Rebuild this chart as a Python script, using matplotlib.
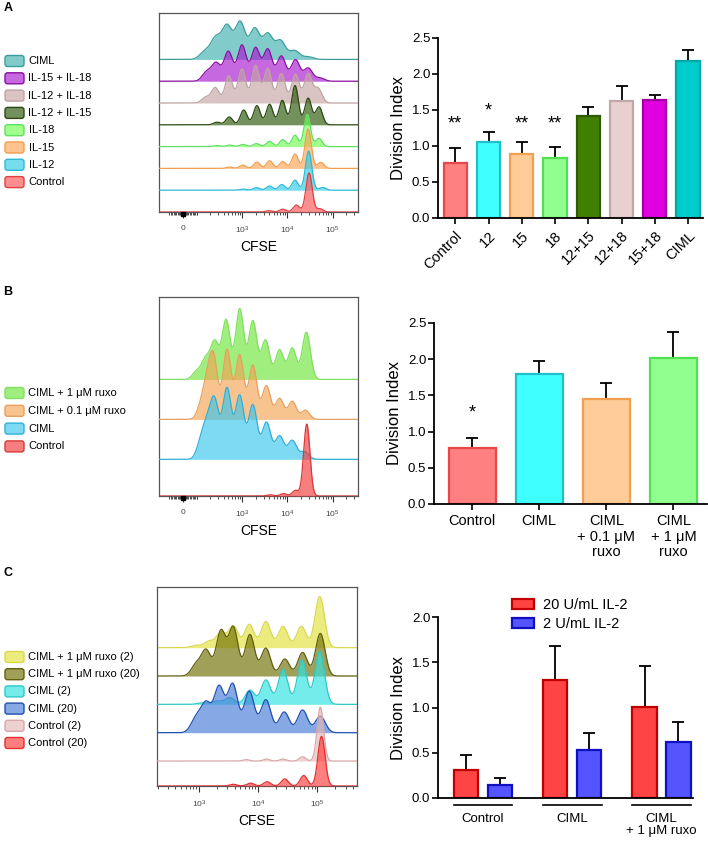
"""
Division index figure: CFSE dilution histograms (A-C) and division-index bars.
"""

import numpy as np
import matplotlib
matplotlib.use("Agg")
import matplotlib.pyplot as plt
from matplotlib.patches import FancyBboxPatch, Patch
from matplotlib.transforms import blended_transform_factory

plt.rcParams["font.family"] = ["Liberation Sans", "DejaVu Sans"]
plt.rcParams["mathtext.fontset"] = "custom"
plt.rcParams["mathtext.rm"] = "Liberation Sans"
plt.rcParams["mathtext.it"] = "Liberation Sans:italic"

# ---------------- Panel A histogram (log10 CFSE, top track first) ----------------
A_NAMES = ["CIML", "IL-15 + IL-18", "IL-12 + IL-18", "IL-12 + IL-15",
           "IL-18", "IL-15", "IL-12", "Control"]
A_BASE = [7, 6, 5, 4, 3, 2, 1, 0]
A_CENTERS = [
    [2.18, 2.42, 2.67, 2.96, 3.28, 3.57, 3.85, 4.16, 4.46],
    [2.22, 2.43, 2.70, 3.00, 3.30, 3.57, 3.87, 4.18, 4.46, 4.72],
    [2.20, 2.41, 2.71, 3.00, 3.30, 3.57, 3.87, 4.18, 4.46, 4.68],
    [2.45, 2.72, 3.04, 3.33, 3.61, 3.89, 4.17, 4.46, 4.70],
    [2.45, 2.73, 3.02, 3.32, 3.61, 3.90, 4.17, 4.44, 4.70],
    [2.73, 3.02, 3.33, 3.61, 3.90, 4.17, 4.46, 4.74],
    [3.02, 3.32, 3.61, 3.88, 4.17, 4.47, 4.78],
    [3.60, 3.90, 4.20, 4.48, 4.72],
]
A_HEIGHTS = [
    [0.35, 0.95, 1.50, 1.70, 1.40, 1.15, 0.85, 0.40, 0.12],
    [0.42, 0.82, 1.36, 1.65, 1.52, 1.46, 1.15, 0.98, 0.60, 0.15],
    [0.26, 0.70, 1.24, 1.56, 1.72, 1.58, 1.35, 1.32, 1.34, 0.66],
    [0.12, 0.36, 0.68, 0.88, 0.94, 1.12, 1.80, 1.22, 0.82],
    [0.05, 0.07, 0.10, 0.14, 0.24, 0.32, 0.52, 1.48, 0.38],
    [0.06, 0.15, 0.29, 0.35, 0.32, 0.66, 1.80, 0.28],
    [0.05, 0.12, 0.19, 0.26, 0.46, 1.79, 0.13],
    [0.06, 0.13, 0.32, 1.79, 0.15],
]
A_WIDTHS = [0.11, 0.095, 0.085, 0.075, 0.07, 0.07, 0.07, 0.07]
A_FILL = ["#3FAFAF", "#A818D0", "#C5A3A3", "#285707",
          "#6EFF50", "#FFA353", "#2BCBE6", "#FF5454"]
A_EDGE = ["#3A9E9E", "#8A10A0", "#C0A4A4", "#2E4A12",
          "#60E060", "#F0A050", "#30B8D8", "#E04040"]

# ---------------- Panel B histogram ----------------
B_NAMES = ["CIML + 1 μM ruxo", "CIML + 0.1 μM ruxo", "CIML", "Control"]
B_BASE = [2.917, 1.917, 0.917, 0.0]
B_CENTERS = [
    [2.00, 2.20, 2.40, 2.65, 2.95, 3.24, 3.52, 3.83, 4.11, 4.42],
    [2.10, 2.24, 2.38, 2.67, 2.95, 3.24, 3.54, 3.83, 4.11, 4.40],
    [2.10, 2.24, 2.40, 2.67, 2.95, 3.24, 3.54, 3.83, 4.11, 4.38],
    [3.62, 3.92, 4.18, 4.43],
]
B_HEIGHTS = [
    [0.20, 0.50, 0.92, 1.48, 1.76, 1.46, 0.98, 0.74, 0.78, 1.18],
    [0.32, 0.82, 1.40, 1.74, 1.60, 1.35, 0.84, 0.52, 0.45, 0.23],
    [0.42, 0.70, 1.36, 1.76, 1.58, 1.35, 0.92, 0.58, 0.47, 0.19],
    [0.03, 0.06, 0.14, 1.80],
]
B_WIDTHS = [0.09, 0.09, 0.095, 0.07]
B_FILL = ["#6EE639", "#F3A353", "#39C6EE", "#F33939"]
B_EDGE = ["#80E060", "#E8A060", "#30B0D8", "#D83838"]

# ---------------- Panel C histogram ----------------
C_NAMES = ["CIML + 1 μM ruxo (2)", "CIML + 1 μM ruxo (20)", "CIML (2)",
           "CIML (20)", "Control (2)", "Control (20)"]
C_BASE = [4.88, 3.88, 2.88, 1.88, 0.88, 0.0]
C_CENTERS = [
    [2.95, 3.17, 3.37, 3.58, 3.85, 4.13, 4.42, 4.73, 5.04],
    [2.95, 3.12, 3.37, 3.58, 3.86, 4.13, 4.45, 4.75, 5.05],
    [3.05, 3.30, 3.52, 3.86, 4.13, 4.42, 4.74, 5.04],
    [2.95, 3.12, 3.34, 3.57, 3.85, 4.13, 4.44, 4.75, 5.05],
    [3.80, 4.14, 4.42, 4.75, 5.05],
    [3.58, 3.87, 4.15, 4.45, 4.77, 5.07],
]
C_HEIGHTS = [
    [0.08, 0.22, 0.52, 0.76, 0.82, 0.92, 0.75, 0.75, 1.80],
    [0.40, 0.90, 1.58, 1.70, 1.46, 0.98, 0.60, 0.83, 1.50],
    [0.05, 0.12, 0.24, 0.50, 0.86, 1.24, 1.56, 1.86],
    [0.50, 1.00, 1.60, 1.70, 1.45, 1.16, 0.73, 0.80, 0.58],
    [0.05, 0.07, 0.07, 0.15, 1.90],
    [0.06, 0.10, 0.15, 0.25, 0.37, 1.75],
]
C_WIDTHS = [0.08, 0.08, 0.08, 0.085, 0.055, 0.06]
C_FILL = ["#E3E339", "#6E6E00", "#2BE3E3", "#467BD9", "#E6B7B7", "#FF3939"]
C_EDGE = ["#D8D850", "#606010", "#30C8C8", "#2050B0", "#D8A8A8", "#E03030"]

# ---------------- Bar charts ----------------
A_BAR_LABELS = ["Control", "12", "15", "18", "12+15", "12+18", "15+18", "CIML"]
A_BAR_VALS = [0.76, 1.05, 0.89, 0.83, 1.41, 1.62, 1.64, 2.18]
A_BAR_ERR = [0.97, 1.19, 1.06, 0.98, 1.54, 1.83, 1.71, 2.34]
A_BAR_STARS = ["**", "*", "**", "**", "", "", "", ""]
A_STAR_Y = [1.25, 1.42, 1.25, 1.25, 0, 0, 0, 0]
A_BAR_FILL = ["#FF8080", "#40FFFF", "#FFCC99", "#90FF90",
              "#408000", "#E8D0D0", "#E000E0", "#00CCCC"]
A_BAR_EDGE = ["#E84848", "#20C0C8", "#F0A050", "#50E050",
              "#2F5A00", "#C0A8A8", "#A000A0", "#00A8A8"]

B_BAR_LABELS = ["Control", "CIML", "CIML\n+ 0.1 μM\nruxo", "CIML\n+ 1 μM\nruxo"]
B_BAR_VALS = [0.78, 1.79, 1.45, 2.01]
B_BAR_ERR = [0.91, 1.98, 1.67, 2.38]
B_BAR_STARS = ["*", "", "", ""]
B_STAR_Y = [1.19, 0, 0, 0]
B_BAR_FILL = ["#FF8080", "#40FFFF", "#FFCC99", "#90FF90"]
B_BAR_EDGE = ["#E84848", "#20C0C8", "#F0A050", "#50E050"]

C_GROUPS = ["Control", "CIML", "CIML\n+ 1 μM ruxo"]
C_SERIES = ["20 U/mL IL-2", "2 U/mL IL-2"]
C_VALS_20 = [0.31, 1.30, 1.01]
C_ERR_20 = [0.47, 1.68, 1.46]
C_VALS_2 = [0.14, 0.53, 0.62]
C_ERR_2 = [0.22, 0.72, 0.84]
C_SER_FILL = ["#FF4444", "#5555FF"]
C_SER_EDGE = ["#C00000", "#1010C0"]

W, H = 708, 841
fig = plt.figure(figsize=(W / 100, H / 100), dpi=100)


def px_axes(x0, y0, x1, y1, **kw):
    return fig.add_axes([x0 / W, 1 - y1 / H, (x1 - x0) / W, (y1 - y0) / H], **kw)


def draw_hist(ax, centers, heights, widths, base, fills, edges, xlim, ylim):
    x = np.linspace(xlim[0], xlim[1], 1200)
    for i in range(len(centers)):
        y = np.zeros_like(x)
        for c, h in zip(centers[i], heights[i]):
            y += h * np.exp(-0.5 * ((x - c) / widths[i]) ** 2)
        b = base[i]
        ax.fill_between(x, b, b + y, color=fills[i], alpha=0.65, lw=0, zorder=2 + i)
        ax.plot(x, b + y, color=edges[i], lw=0.9, zorder=2 + i)
    ax.set_xlim(*xlim)
    ax.set_ylim(*ylim)
    ax.set_yticks([])
    for s in ax.spines.values():
        s.set_color("#555555")
        s.set_linewidth(0.9)
    ax.tick_params(axis="x", which="major", direction="out", length=4, width=0.8,
                   color="#333333", labelsize=6, labelcolor="#444444", pad=5)
    ax.tick_params(axis="x", which="minor", direction="out", length=2.5, width=0.6,
                   color="#333333")
    ax.set_xlabel("CFSE", fontsize=10, labelpad=3)


def logicle_ticks(ax, xlim):
    zero, lin = 1.70, 0.30
    ax.set_xticks([zero, 3, 4, 5], ["0", "$10^3$", "$10^4$", "$10^5$"])
    minor = [zero + v / 100 * lin for v in range(-100, 101, 10)]
    minor += [k + np.log10(m) for k in (2, 3, 4, 5) for m in range(1, 10)]
    minor = [m for m in minor if xlim[0] < m < xlim[1] and m not in (3, 4, 5)]
    ax.set_xticks(minor, minor=True)
    tr = blended_transform_factory(ax.transData, ax.transAxes)
    ax.plot([zero], [-0.012], marker="s", ms=3, color="k", transform=tr,
            clip_on=False, zorder=10)


def log_ticks(ax, xlim):
    ax.set_xticks([3, 4, 5], ["$10^3$", "$10^4$", "$10^5$"])
    minor = [k + np.log10(m) for k in (2, 3, 4, 5) for m in range(2, 10)]
    ax.set_xticks([m for m in minor if xlim[0] < m < xlim[1]], minor=True)


# histograms
xa = (1.17, 5.56)
axA = px_axes(159, 13, 358, 212)
draw_hist(axA, A_CENTERS, A_HEIGHTS, A_WIDTHS, A_BASE, A_FILL, A_EDGE, xa, (0, 9.13))
logicle_ticks(axA, xa)

axB = px_axes(159, 297, 358, 496)
draw_hist(axB, B_CENTERS, B_HEIGHTS, B_WIDTHS, B_BASE, B_FILL, B_EDGE, xa, (0, 4.98))
logicle_ticks(axB, xa)

xc = (2.29, 5.67)
axC = px_axes(157, 587, 357, 786)
draw_hist(axC, C_CENTERS, C_HEIGHTS, C_WIDTHS, C_BASE, C_FILL, C_EDGE, xc, (0, 7.02))
log_ticks(axC, xc)


def style_bar_axes(ax, ymax):
    for s in ("top", "right"):
        ax.spines[s].set_visible(False)
    for s in ("left", "bottom"):
        ax.spines[s].set_linewidth(1.3)
    ax.set_ylim(0, ymax)
    ax.set_yticks(np.arange(0, ymax + 0.01, 0.5))
    ax.set_yticklabels([f"{v:.1f}" for v in np.arange(0, ymax + 0.01, 0.5)])
    ax.tick_params(axis="y", direction="out", length=4, width=1.2, labelsize=9.5, pad=1.5)
    ax.tick_params(axis="x", direction="out", length=4, width=1.2)
    ax.set_ylabel("Division Index", fontsize=12, labelpad=4)


def draw_bars(ax, vals, errs, fills, edges, width, x=None):
    if x is None:
        x = np.arange(len(vals))
    vals = np.asarray(vals)
    up = np.asarray(errs) - vals
    ax.errorbar(x, vals, yerr=[np.zeros_like(vals), up], fmt="none", ecolor="k",
                elinewidth=1.3, capsize=4.5, capthick=1.3, zorder=1)
    ax.bar(x, vals, width=width, color=fills, edgecolor=edges, linewidth=1.6, zorder=2)
    return x


# A bars
axAb = px_axes(438, 38, 703, 218)
xb = draw_bars(axAb, A_BAR_VALS, A_BAR_ERR, A_BAR_FILL, A_BAR_EDGE, 0.7)
for xi, st, sy in zip(xb, A_BAR_STARS, A_STAR_Y):
    if st:
        axAb.text(xi, sy, st, ha="center", va="baseline", fontsize=13)
axAb.set_xlim(-0.52, 7.45)
style_bar_axes(axAb, 2.5)
axAb.set_xticks(xb)
axAb.set_xticklabels(A_BAR_LABELS, rotation=45, ha="right", rotation_mode="anchor",
                     fontsize=10.5)

# B bars
axBb = px_axes(434, 323, 707, 504)
xb = draw_bars(axBb, B_BAR_VALS, B_BAR_ERR, B_BAR_FILL, B_BAR_EDGE, 0.7)
for xi, st, sy in zip(xb, B_BAR_STARS, B_STAR_Y):
    if st:
        axBb.text(xi, sy, st, ha="center", va="baseline", fontsize=13)
axBb.set_xlim(-0.567, 3.5)
style_bar_axes(axBb, 2.5)
axBb.set_xticks(xb)
axBb.set_xticklabels(B_BAR_LABELS, fontsize=10.5, linespacing=1.1)

# C grouped bars
axCb = px_axes(438, 617, 693, 798)
g = np.arange(len(C_GROUPS))
off, bw = 0.19, 0.27
draw_bars(axCb, C_VALS_20, C_ERR_20, C_SER_FILL[0], C_SER_EDGE[0], bw, g - off)
draw_bars(axCb, C_VALS_2, C_ERR_2, C_SER_FILL[1], C_SER_EDGE[1], bw, g + off)
axCb.set_xlim(-0.504, 2.353)
style_bar_axes(axCb, 2.0)
axCb.set_xticks(g)
axCb.set_xticklabels(C_GROUPS, fontsize=9.5, linespacing=1.0)
axCb.tick_params(axis="x", length=0, pad=11)
trc = blended_transform_factory(axCb.transData, axCb.transAxes)
for gi in g:
    axCb.plot([gi - 0.33, gi + 0.33], [-0.04, -0.04], color="k", lw=1.2,
              transform=trc, clip_on=False)
handles = [Patch(facecolor=f, edgecolor=e, linewidth=1.6, label=l)
           for f, e, l in zip(C_SER_FILL, C_SER_EDGE, C_SERIES)]
axCb.legend(handles=handles, loc="upper left", bbox_to_anchor=(0.292, 1.105),
            frameon=False, fontsize=10.5, handlelength=1.5, handleheight=0.75,
            handletextpad=0.6, labelspacing=0.35, borderaxespad=0, borderpad=0)

# overlay for legends and panel letters (pixel coordinates)
ov = fig.add_axes([0, 0, 1, 1], zorder=-5)
ov.set_xlim(0, W)
ov.set_ylim(H, 0)
ov.axis("off")


def side_legend(names, fills, edges, y0, step):
    for i, (n, f, e) in enumerate(zip(names, fills, edges)):
        y = y0 + i * step
        ov.add_patch(FancyBboxPatch((5, y - 5.5), 19, 11,
                                    boxstyle="round,pad=0,rounding_size=2.5",
                                    facecolor=f, alpha=0.65, edgecolor="none"))
        ov.add_patch(FancyBboxPatch((5, y - 5.5), 19, 11,
                                    boxstyle="round,pad=0,rounding_size=2.5",
                                    facecolor="none", edgecolor=e, lw=1.0))
        ov.text(28.5, y, n, fontsize=8, va="center", ha="left")


side_legend(A_NAMES, A_FILL, A_EDGE, 61, 17.3)
side_legend(B_NAMES, B_FILL, B_EDGE, 393, 17.8)
side_legend(C_NAMES, C_FILL, C_EDGE, 657, 17.2)

for letter, yy in (("A", 8), ("B", 292), ("C", 573)):
    ov.text(8, yy, letter, fontsize=9, fontweight="bold", ha="center", va="center")

fig.savefig("out.png", dpi=100)
